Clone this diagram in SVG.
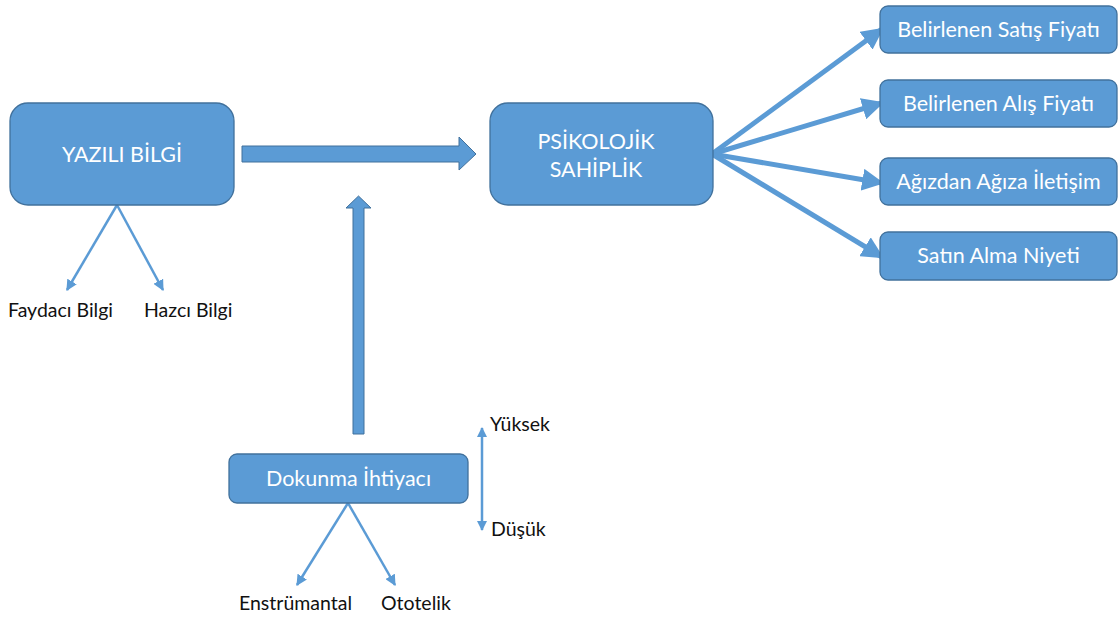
<svg xmlns="http://www.w3.org/2000/svg" width="1118" height="618" viewBox="0 0 1118 618">
<style>
.box{fill:#5B9BD5;stroke:#41719C;stroke-width:1.3}
.wt{fill:#fff;font-family:Lato,"Open Sans",sans-serif;font-size:21.5px;text-anchor:middle}
.bt{fill:#111;font-family:Lato,"Open Sans",sans-serif;font-size:19.5px}
.thin{stroke:#5B9BD5;stroke-width:2.5;fill:none}
.thick{stroke:#5B9BD5;stroke-width:5;fill:none}
.blk{fill:#5B9BD5;stroke:#41719C;stroke-width:1}
</style>
<defs>
<marker id="ah" viewBox="0 0 10 10" refX="9" refY="5" markerWidth="4.4" markerHeight="4.4" orient="auto" markerUnits="strokeWidth">
<path d="M0,0 L10,5 L0,10 z" fill="#5B9BD5"/>
</marker>
<marker id="ah2" viewBox="0 0 10 10" refX="9" refY="5" markerWidth="4" markerHeight="4" orient="auto-start-reverse" markerUnits="strokeWidth">
<path d="M0,0 L10,5 L0,10 z" fill="#5B9BD5"/>
</marker>
<marker id="ah3" viewBox="0 0 10 10" refX="9" refY="5" markerWidth="4.4" markerHeight="4.4" orient="auto" markerUnits="strokeWidth">
<path d="M0,0 L10,5 L0,10 z" fill="#5B9BD5"/>
</marker>
</defs>
<g id="connectors">
<path class="blk" d="M242,146 L459,146 L459,137 L476,154 L459,170 L459,162 L242,162 z"/>
<path class="blk" d="M353,434 L353,208 L346,208 L358.5,196 L371,208 L364,208 L364,434 z"/>
<line class="thin" x1="117" y1="205" x2="67" y2="290" marker-end="url(#ah)"/>
<line class="thin" x1="117" y1="205" x2="163" y2="290" marker-end="url(#ah)"/>
<line class="thin" x1="348" y1="503" x2="297" y2="585" marker-end="url(#ah)"/>
<line class="thin" x1="348" y1="503" x2="395" y2="585" marker-end="url(#ah)"/>
<line class="thin" x1="482" y1="428" x2="482" y2="530" marker-start="url(#ah2)" marker-end="url(#ah2)"/>
<line class="thick" x1="712" y1="154" x2="882" y2="29" marker-end="url(#ah3)"/>
<line class="thick" x1="712" y1="154" x2="882" y2="103" marker-end="url(#ah3)"/>
<line class="thick" x1="712" y1="154" x2="882" y2="183" marker-end="url(#ah3)"/>
<line class="thick" x1="712" y1="154" x2="882" y2="257" marker-end="url(#ah3)"/>
</g>
<g id="yazili">
<rect class="box" x="10" y="103" width="224" height="102" rx="18"/>
<text class="wt" x="122" y="162">YAZILI BİLGİ</text>
</g>
<g id="psikolojik">
<rect class="box" x="490" y="103" width="223" height="102" rx="18"/>
<text class="wt" x="596" y="149">PSİKOLOJİK</text>
<text class="wt" x="596" y="177">SAHİPLİK</text>
</g>
<g id="satis">
<rect class="box" x="880" y="6" width="237" height="47" rx="8"/>
<text class="wt" x="998.5" y="37">Belirlenen Satış Fiyatı</text>
</g>
<g id="alis">
<rect class="box" x="880" y="80" width="237" height="47" rx="8"/>
<text class="wt" x="998.5" y="111">Belirlenen Alış Fiyatı</text>
</g>
<g id="agizdan">
<rect class="box" x="880" y="158" width="237" height="47" rx="8"/>
<text class="wt" x="998.5" y="189">Ağızdan Ağıza İletişim</text>
</g>
<g id="satinalma">
<rect class="box" x="880" y="232" width="237" height="48" rx="8"/>
<text class="wt" x="998.5" y="263">Satın Alma Niyeti</text>
</g>
<g id="dokunma">
<rect class="box" x="229" y="454" width="239" height="49" rx="8"/>
<text class="wt" x="348.5" y="486">Dokunma İhtiyacı</text>
</g>
<g id="faydaci"><text class="bt" x="8" y="317">Faydacı Bilgi</text></g>
<g id="hazci"><text class="bt" x="144" y="317">Hazcı Bilgi</text></g>
<g id="yuksek"><text class="bt" x="490" y="431">Yüksek</text></g>
<g id="dusuk"><text class="bt" x="491" y="536">Düşük</text></g>
<g id="enstrumantal"><text class="bt" x="239" y="610">Enstrümantal</text></g>
<g id="ototelik"><text class="bt" x="381" y="610">Ototelik</text></g>
</svg>
